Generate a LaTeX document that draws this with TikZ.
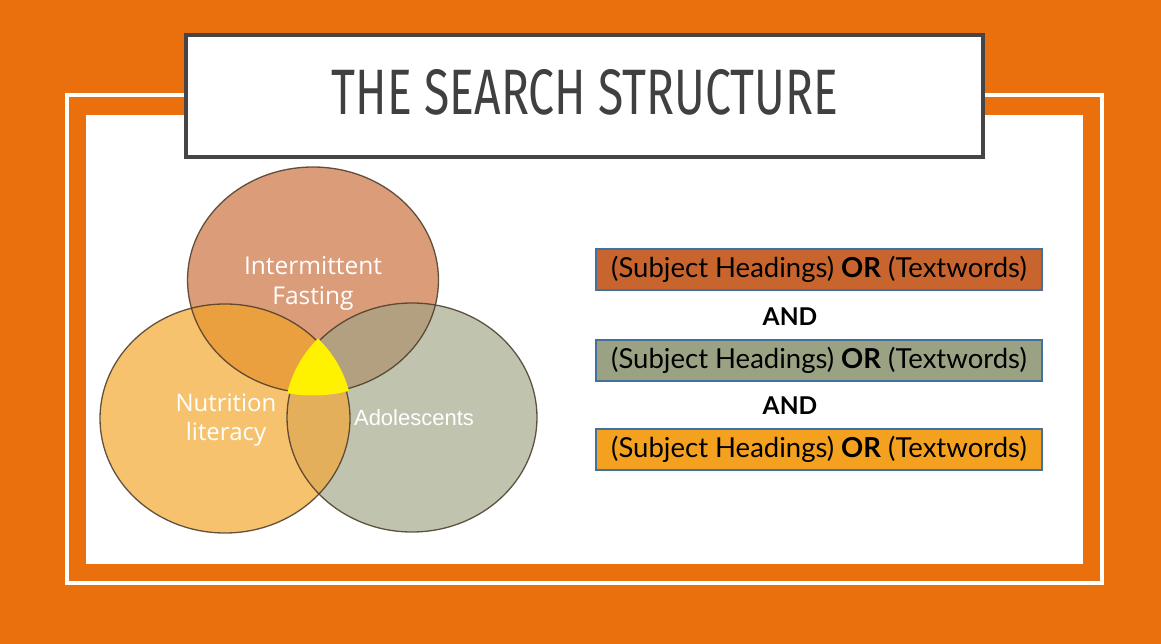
\documentclass[tikz,border=0pt]{standalone}
\usepackage{fontspec}
\setmainfont{Open Sans}
\newfontfamily\latofont{Lato}
\newfontfamily\titlefont{Fira Sans}
\newfontfamily\arialfont{Liberation Sans}
\definecolor{bgorange}{HTML}{EA700E}
\definecolor{titlegray}{HTML}{404040}
\definecolor{framegray}{HTML}{454545}
\definecolor{topc}{HTML}{DB9C7A}
\definecolor{leftc}{HTML}{F7C26E}
\definecolor{rightc}{HTML}{C0C4AF}
\definecolor{tlc}{HTML}{EBA040}
\definecolor{trc}{HTML}{B2A081}
\definecolor{lrc}{HTML}{E3AF5A}
\definecolor{boxone}{HTML}{C8652F}
\definecolor{boxtwo}{HTML}{9BA283}
\definecolor{boxthree}{HTML}{F4A11F}
\definecolor{boxedge}{HTML}{41719C}
\definecolor{venedge}{HTML}{4A3A28}
\tikzset{
  querybox/.style={draw=boxedge, line width=1.2pt, minimum width=446pt, minimum height=41pt, inner sep=0pt, font=\latofont\fontsize{27.5}{32}\selectfont, text=black},
  andlabel/.style={font=\latofont\bfseries\fontsize{24.5}{28}\selectfont, text=black, inner sep=0pt},
  venlabel/.style={text=white, align=center, inner sep=0pt},
  venedgestyle/.style={draw=venedge, line width=1.3pt, draw opacity=0.85}
}
\newcommand{\topell}{(313,280) ellipse [x radius=125.5, y radius=113]}
\newcommand{\leftell}{(225,418.5) ellipse [x radius=125, y radius=114.5]}
\newcommand{\rightell}{(412,417.5) ellipse [x radius=125, y radius=114.5]}
\newcommand{\topellbig}{(313,280) ellipse [x radius=128, y radius=115.5]}
\newcommand{\leftellbig}{(225,418.5) ellipse [x radius=127.5, y radius=117]}
\newcommand{\rightellbig}{(412,417.5) ellipse [x radius=127.5, y radius=117]}
\begin{document}
\begin{tikzpicture}[x=1pt,y=-1pt]
\useasboundingbox (0,0) rectangle (1161,644);
\fill[bgorange] (0,0) rectangle (1161,644);
\draw[white, line width=4pt] (67,95) rectangle (1102,583);
\fill[white] (86,115) rectangle (1083,564);
% title
\node[draw=framegray, line width=4pt, fill=white, minimum width=797pt, minimum height=122pt, inner sep=0pt] (title) at (584.5,96) {};
\node[text=titlegray, inner sep=0pt] (titletext) at (585,92) {\resizebox{506pt}{45pt}{\titlefont THE SEARCH STRUCTURE}};
% venn fills
\fill[topc] \topell;
\fill[leftc] \leftell;
\fill[rightc] \rightell;
\begin{scope}\clip \topell; \fill[tlc] \leftell; \end{scope}
\begin{scope}\clip \topell; \fill[trc] \rightell; \end{scope}
\begin{scope}\clip \leftell; \fill[lrc] \rightell; \end{scope}
\draw[venedgestyle] \topell;
\draw[venedgestyle] \leftell;
\draw[venedgestyle] \rightell;
\begin{scope}\clip \topellbig; \clip \leftellbig; \fill[yellow] \rightellbig; \end{scope}
% venn labels
\node[venlabel, font=\fontsize{24.5}{30}\selectfont] (fasting) at (313,283) {Intermittent\\Fasting};
\node[venlabel, font=\fontsize{24}{29}\selectfont] (nutrition) at (226,420) {Nutrition\\literacy};
\node[venlabel, font=\arialfont\fontsize{22}{25}\selectfont] (adol) at (414,418) {Adolescents};
% query boxes
\node[querybox, fill=boxone] (q1) at (819,269.5) {(Subject Headings) \textbf{OR} (Textwords)};
\node[andlabel] (and1) at (790,317) {AND};
\node[querybox, fill=boxtwo] (q2) at (819,360.5) {(Subject Headings) \textbf{OR} (Textwords)};
\node[andlabel] (and2) at (790,406) {AND};
\node[querybox, fill=boxthree] (q3) at (819,449.5) {(Subject Headings) \textbf{OR} (Textwords)};
\end{tikzpicture}
\end{document}
